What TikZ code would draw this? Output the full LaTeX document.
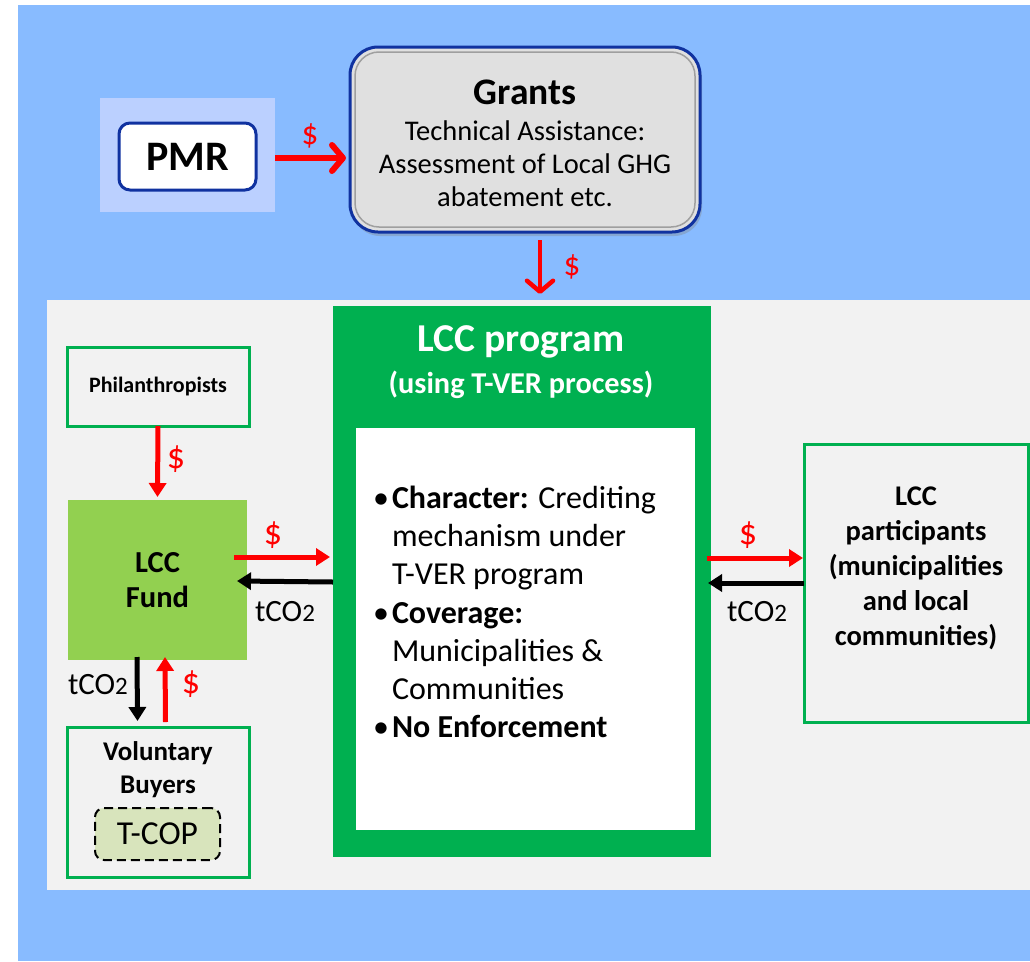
\documentclass[tikz,border=0pt]{standalone}
\usepackage{fontspec}
\setmainfont{Carlito}
\usetikzlibrary{arrows.meta,shadows,calc}
\definecolor{bgblue}{RGB}{136,187,255}
\definecolor{panelgrey}{RGB}{242,242,242}
\definecolor{pmrblue}{RGB}{187,208,255}
\definecolor{darkblue}{RGB}{16,50,160}
\definecolor{lccgreen}{RGB}{0,176,80}
\definecolor{fundgreen}{RGB}{146,208,80}
\definecolor{tcopgreen}{RGB}{216,228,188}
\definecolor{grantgrey}{RGB}{224,224,224}
\begin{document}
\begin{tikzpicture}[x=1pt,y=-1pt,
  every node/.style={inner sep=0pt,outer sep=0pt},
  redarr/.style={draw=red,line width=5pt,-{Triangle[length=14pt,width=17pt]}},
  blkarr/.style={draw=black,line width=5pt,-{Triangle[length=14pt,width=17pt]}},
  barbarr/.style={draw=red,-{Straight Barb[round,length=11pt,width=26pt]}},
  greenbox/.style={draw=lccgreen,line width=3pt,fill=panelgrey},
  boldtxt/.style={font=\fontsize{28.5}{35}\selectfont\bfseries,align=center},
  dollar/.style={text=red,font=\fontsize{36}{36}\selectfont},
  smalldollar/.style={text=red,font=\fontsize{33}{33}\selectfont},
  tco/.style={font=\fontsize{31}{31}\selectfont}
]
\useasboundingbox (0,0) rectangle (1030,961);
% backgrounds
\fill[bgblue] (18,5) rectangle (1030,961);
\fill[panelgrey] (47,300) rectangle (1030,890);
% top part
\node[fill=pmrblue,minimum width=175pt,minimum height=114pt] (pmrbg) at (187.5,155) {};
\node[draw=darkblue,line width=3pt,fill=white,rounded corners=11pt,
      minimum width=137pt,minimum height=67pt,font=\fontsize{42}{42}\selectfont\bfseries]
      (pmr) at (187.5,156.5) {PMR};
\node[draw=darkblue,line width=3pt,fill=grantgrey,rounded corners=28pt,
      minimum width=350pt,minimum height=185pt,
      drop shadow={shadow xshift=2pt,shadow yshift=-4pt,opacity=0.35}]
      (grants) at (525,139.5) {};
\draw[gray!75,line width=1.5pt,rounded corners=24pt]
  ([shift={(5pt,-5pt)}]grants.north west) rectangle ([shift={(-5pt,5pt)}]grants.south east);
\node[align=center,font=\fontsize{28.5}{33}\selectfont] (grantstext) at (525,143.5)
      {{\fontsize{37.5}{37.5}\selectfont\bfseries Grants}\\[3pt]
       Technical Assistance:\\ Assessment of Local GHG\\ abatement etc.};
% LCC program
\node[fill=lccgreen,minimum width=378pt,minimum height=551pt] (prog) at (522,581.5) {};
\node[text=white,align=center,font=\fontsize{30.3}{42}\selectfont\bfseries] (progtitle) at (521,362)
  {{\fontsize{39.5}{39.5}\selectfont LCC program}\\(using T-VER process)};
\node[fill=white,minimum width=339pt,minimum height=402pt] (inner) at (525.5,629) {};
\node[anchor=west,align=left,font=\fontsize{32}{38.2}\selectfont] (bullets) at (373,612)
  {\makebox[19pt][l]{\textbullet}\textbf{Character:} Crediting\\
   \hspace*{19pt}mechanism under\\
   \hspace*{19pt}T-VER program\\
   \makebox[19pt][l]{\textbullet}\textbf{Coverage:}\\
   \hspace*{19pt}Municipalities \&\\
   \hspace*{19pt}Communities\\
   \makebox[19pt][l]{\textbullet}\textbf{No Enforcement}};
% left column
\node[greenbox,minimum width=182pt,minimum height=79pt,font=\fontsize{22}{22}\selectfont\bfseries]
  (phil) at (158,386.5) {Philanthropists};
\node[fill=fundgreen,minimum width=179pt,minimum height=160pt,boldtxt,font=\fontsize{30.5}{35}\selectfont\bfseries] (fund) at (157.5,580) {LCC\\Fund};
\node[greenbox,minimum width=182pt,minimum height=150pt] (vol) at (158,802) {};
\node[font=\fontsize{27}{33}\selectfont\bfseries,align=center] (voltext) at (158,770) {Voluntary\\Buyers};
\node[draw=black,dash pattern=on 9pt off 5pt,line width=2pt,fill=tcopgreen,rounded corners=9pt,
      minimum width=125pt,minimum height=52pt,font=\fontsize{33.5}{33.5}\selectfont] (tcop) at (157.5,834) {T-COP};
% right
\node[greenbox,minimum width=224pt,minimum height=278pt] (part) at (916,583) {};
\node[boldtxt] (parttext) at (916,568) {LCC\\participants\\(municipalities\\and local\\communities)};
% arrows top
\draw[barbarr,line width=6pt] ([yshift=-3pt]pmrbg.east) -- ([xshift=-4pt,yshift=-3pt]pmrbg.east -| grants.west);
\node[smalldollar] (d1) at (310,136) {\$};
\draw[barbarr,line width=4.5pt] ([xshift=15pt,yshift=-8pt]grants.south) -- ([xshift=18pt,yshift=12pt]prog.north);
\node[smalldollar] (d2) at (572,267) {\$};
% phil -> fund
\draw[redarr] (phil.south) -- ([yshift=3pt]fund.north);
\node[dollar] (d3) at (176,459) {\$};
% fund <-> prog
\draw[redarr] ([xshift=-13pt,yshift=23pt]fund.east) -- ([xshift=-3pt,yshift=23pt]fund.east -| prog.west);
\draw[blkarr] ([yshift=-0.5pt]prog.west) -- ([xshift=-10pt,yshift=-1pt]fund.east);
\node[dollar] (d4) at (273,535) {\$};
\node[tco] (t1) at (285,612) {tCO{\fontsize{25}{25}\selectfont 2}};
% fund <-> vol
\draw[blkarr] ([xshift=-20.5pt,yshift=3pt]fund.south) -- ([xshift=-20.5pt,yshift=6pt]vol.north);
\draw[redarr] ([xshift=7.5pt,yshift=5pt]vol.north) -- ([xshift=7.5pt,yshift=3pt]fund.south);
\node[tco] (t2) at (98,685) {tCO{\fontsize{25}{25}\selectfont 2}};
\node[dollar] (d5) at (191,684) {\$};
% prog <-> part
\draw[redarr] ([xshift=-4pt,yshift=25pt]part.west -| prog.east) -- ([xshift=-1pt,yshift=25pt]part.west);
\draw[blkarr] (part.west) -- ([xshift=-3pt]part.west -| prog.east);
\node[dollar] (d6) at (748,535) {\$};
\node[tco] (t3) at (757,612) {tCO{\fontsize{25}{25}\selectfont 2}};
\end{tikzpicture}
\end{document}
